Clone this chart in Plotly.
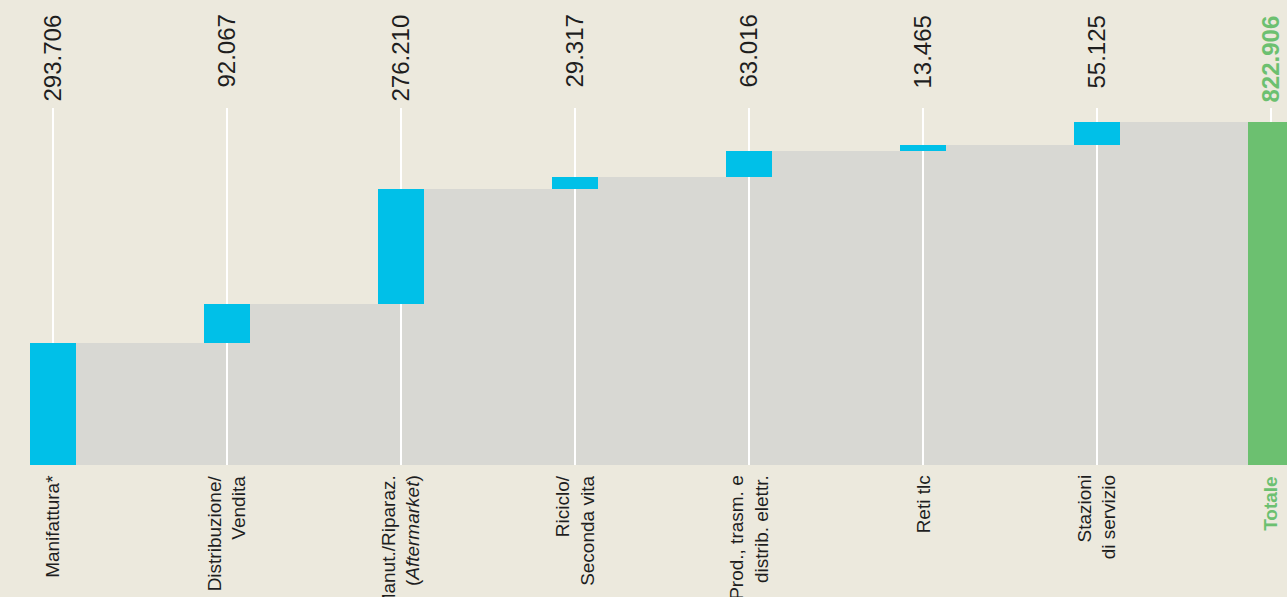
import plotly.graph_objects as go
import numpy as np

# ---- data ----
categories = [
    "Manifattura*",
    "Distribuzione/<br>Vendita",
    "Manut./Riparaz.<br>(<i>Aftermarket</i>)",
    "Riciclo/<br>Seconda vita",
    "Prod., trasm. e<br>distrib. elettr.",
    "Reti tlc",
    "Stazioni<br>di servizio",
]
total_label = "<b>Totale</b>"
values = [293.706, 92.067, 276.210, 29.317, 63.016, 13.465, 55.125]
value_labels = ["293.706", "92.067", "276.210", "29.317", "63.016", "13.465", "55.125"]
total_value = 822.906
total_value_label = "822.906"

# ---- styles ----
BG = "#ECE9DD"
GREY = "#D8D8D3"
CYAN = "#00C0E8"
GREEN = "#6CC070"
TEXT = "#1E1E1E"
FONT = "Liberation Sans, Arial, sans-serif"

n = len(values)
xs = np.arange(n)
cum = np.cumsum(values)
bases = np.concatenate([[0], cum[:-1]])

BAR_W = 0.2644
LINE_W = 0.016
Y_MAX = 1115.6
LINE_TOP = 856.5

fig = go.Figure()

# grey step area (cumulative level after each step, up to next bar's right edge)
fig.add_trace(go.Bar(
    x=xs + 0.5 + BAR_W / 2, y=cum, base=0, width=1.0,
    marker=dict(color=GREY, line=dict(width=0)), hoverinfo="skip", showlegend=False,
))
# white guide lines
fig.add_trace(go.Bar(
    x=np.arange(n + 1), y=[LINE_TOP] * (n + 1), base=0, width=LINE_W,
    marker=dict(color="white", line=dict(width=0)), hoverinfo="skip", showlegend=False,
))
# floating cyan bars
fig.add_trace(go.Bar(
    x=xs, y=values, base=bases, width=BAR_W,
    marker=dict(color=CYAN, line=dict(width=0)), showlegend=False,
))
# total bar
fig.add_trace(go.Bar(
    x=[n], y=[total_value], base=0, width=BAR_W,
    marker=dict(color=GREEN, line=dict(width=0)), showlegend=False,
))

annotations = []
for i in range(n):
    annotations.append(dict(
        x=i, y=0.972, xref="x", yref="paper", text=value_labels[i],
        textangle=-90, showarrow=False, xanchor="center", yanchor="top",
        font=dict(family=FONT, size=24, color=TEXT),
    ))
    annotations.append(dict(
        x=i, y=-0.018, xref="x", yref="paper", text=categories[i],
        textangle=-90, showarrow=False, xanchor="center", yanchor="top", align="right",
        font=dict(family=FONT, size=19, color=TEXT),
    ))
annotations.append(dict(
    x=n, y=0.972, xref="x", yref="paper", text="<b>" + total_value_label + "</b>",
    textangle=-90, showarrow=False, xanchor="center", yanchor="top",
    font=dict(family=FONT, size=24, color=GREEN),
))
annotations.append(dict(
    x=n, y=-0.018, xref="x", yref="paper", text=total_label,
    textangle=-90, showarrow=False, xanchor="center", yanchor="top", align="right",
    font=dict(family=FONT, size=19, color=GREEN),
))

fig.update_layout(
    width=1287, height=597,
    margin=dict(l=0, r=0, t=0, b=132),
    paper_bgcolor=BG, plot_bgcolor=BG,
    barmode="overlay", bargap=0,
    xaxis=dict(range=[-0.3046, 7.092], visible=False, fixedrange=True),
    yaxis=dict(range=[0, Y_MAX], visible=False, fixedrange=True),
    annotations=annotations,
    showlegend=False,
)

fig.write_html(
    "out.html",
    config={"displayModeBar": False},
    post_script="document.body.style.margin='0';document.body.style.overflow='hidden';",
)
